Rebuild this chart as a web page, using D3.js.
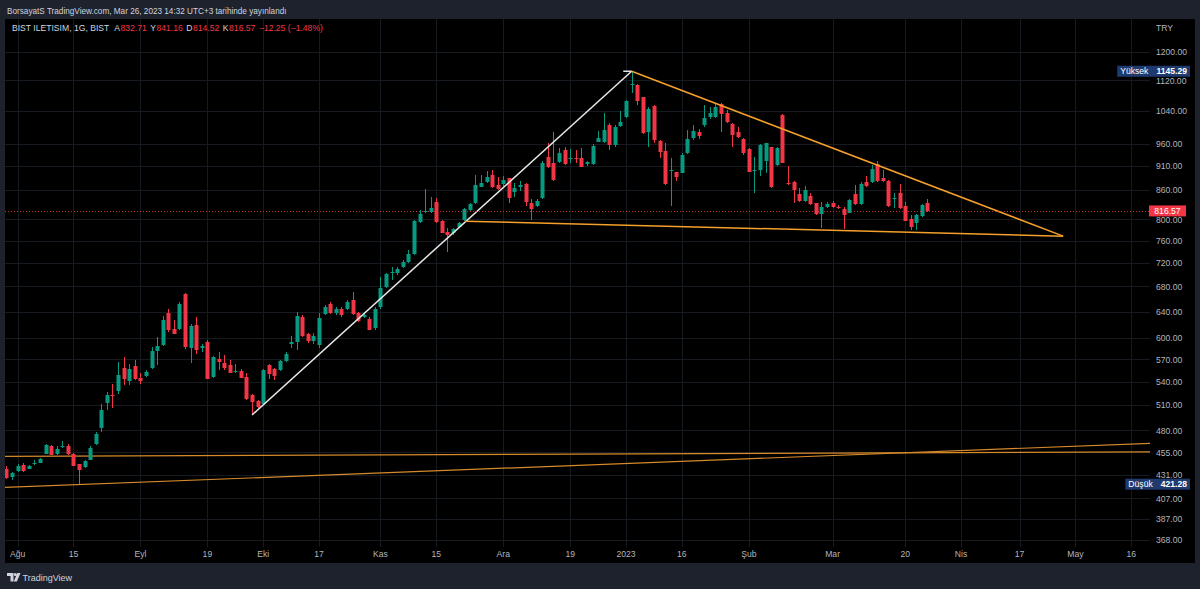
<!DOCTYPE html>
<html><head><meta charset="utf-8">
<script src="https://cdn.jsdelivr.net/npm/d3@7"></script>
<style>html,body{margin:0;padding:0;background:#1e222d;}svg{display:block}</style>
</head><body>
<svg id="c" width="1200" height="589"></svg>
<script>
// ---- DATA ----
// bar index 0 = Aug 1 2022 (trading days); first visible bar is index -2
const firstIndex = -2;
const opens = [
437.4,428.6,434.6,441.7,437.4,442.3,443.9,453.7,461.7,453.7,
460.9,461.7,453.7,442.0,439.1,447.1,464.7,482.7,512.8,522.9,
528.0,557.9,540.9,560.6,544.9,547.6,558.3,581.7,589.8,637.0,
614.2,614.2,667.0,585.2,619.1,585.2,594.1,546.2,570.1,564.6,
561.9,552.5,554.8,546.2,522.9,515.4,511.2,561.9,557.5,555.2,
567.4,592.3,594.1,631.8,605.8,595.5,589.8,635.9,651.4,637.0,
644.7,644.7,658.9,637.0,631.8,627.8,615.7,647.2,679.4,701.8,
701.8,713.1,720.8,735.4,795.3,813.6,813.6,833.6,797.2,776.3,
773.2,785.8,798.6,818.2,831.5,865.7,876.3,890.9,868.7,871.5,
883.6,855.3,865.7,871.5,832.6,826.2,841.8,931.1,916.3,918.3,
946.3,926.5,927.4,928.8,914.7,914.7,965.5,965.5,1005.4,957.6,
1003.9,1024.4,1107.0,1107.8,1075.2,989.2,1053.6,967.8,944.7,899.7,
896.4,895.6,938.8,973.5,989.2,1005.4,1024.4,1024.4,1058.3,1034.3,
1007.8,989.2,971.9,947.9,899.7,901.3,921.4,952.5,912.5,1030.1,
874.2,876.3,850.6,836.8,846.5,831.5,810.3,823.6,832.6,824.8,
819.6,812.8,850.6,830.2,876.3,876.3,914.7,883.6,878.5,839.7,
852.0,826.2,800.5,792.2,806.3,832.71];
const highs = [
439.9,433.8,442.0,443.4,441.0,446.4,448.8,464.7,462.8,461.7,
467.3,464.7,454.3,442.8,446.4,462.0,478.0,512.1,526.7,537.5,
566.4,573.3,564.2,568.8,550.8,556.1,587.4,601.8,632.8,644.7,
626.7,655.1,668.6,621.7,631.8,592.3,597.0,574.3,580.3,575.7,
568.8,564.2,557.5,550.8,524.7,516.3,556.5,563.3,558.0,568.8,
580.3,602.9,638.5,634.4,607.6,607.2,637.5,649.9,655.1,647.2,
647.2,658.9,671.2,639.5,639.5,631.8,647.2,695.0,702.8,713.1,
712.1,724.8,742.6,798.6,818.2,860.3,845.0,843.0,798.6,782.7,
784.2,794.1,821.6,832.6,890.9,890.9,899.3,901.3,886.9,888.8,
885.0,872.9,878.2,872.9,839.7,839.7,921.4,962.5,989.2,950.2,
953.9,949.8,946.3,950.2,921.4,961.0,991.1,1035.8,1009.5,1005.4,
1039.7,1068.0,1145.29,1110.5,1076.8,1051.1,1055.4,969.4,963.1,927.4,
897.7,938.8,992.3,1005.4,994.9,1055.4,1051.1,1060.1,1060.1,1042.7,
1009.5,1001.3,973.5,950.2,931.1,960.2,963.4,953.9,952.5,1031.9,
910.3,878.2,862.4,867.2,852.0,832.6,834.8,834.8,836.8,828.2,
824.2,839.7,869.3,876.3,888.4,912.5,921.4,901.3,879.9,852.0,
871.5,834.8,808.3,810.3,830.2,841.16];
const lows = [
426.2,425.9,433.8,433.8,436.7,441.7,443.1,453.0,451.8,452.4,
460.0,452.6,439.9,421.28,438.5,446.4,463.6,478.0,503.8,507.1,
524.7,535.3,535.3,541.9,537.5,546.2,557.5,561.9,588.4,609.1,
605.8,611.6,585.0,565.0,577.1,580.3,543.5,545.4,555.2,556.1,
550.8,551.6,545.0,517.1,498.2,507.0,510.5,544.1,541.9,554.2,
566.4,586.0,583.7,601.8,592.7,591.3,585.6,634.4,635.9,635.4,
631.8,643.1,634.4,624.2,629.3,611.6,611.6,644.7,676.8,690.5,
698.9,710.4,719.0,733.6,793.3,811.7,811.7,792.2,773.2,739.5,
770.1,782.7,797.2,816.8,830.2,864.5,872.9,862.4,858.9,867.2,
832.6,845.0,857.4,826.2,798.6,824.8,839.7,906.0,878.2,916.3,
912.5,916.9,917.5,907.4,910.3,912.5,964.1,963.1,946.3,952.5,
1001.3,1022.0,1085.6,1055.4,983.7,952.5,962.5,927.4,870.5,826.8,
878.2,894.3,937.2,969.4,971.2,1001.3,1019.5,1022.0,989.2,1009.5,
953.9,973.5,934.9,896.4,853.3,888.8,894.3,863.0,910.3,916.3,
869.3,832.6,834.8,834.8,828.2,808.3,782.7,821.6,821.6,819.6,
781.4,811.7,828.2,828.2,865.7,874.2,876.3,876.3,823.6,821.6,
819.6,796.1,779.5,779.5,803.8,814.52];
const closes = [
428.0,433.2,440.2,434.6,439.9,443.4,447.4,463.6,452.6,459.2,
462.0,453.0,440.6,436.4,445.3,459.8,475.4,503.8,522.5,521.6,
548.5,544.1,557.5,543.2,540.5,552.5,581.7,589.4,626.7,612.7,
606.8,652.5,586.6,617.6,582.7,589.4,544.1,573.3,566.4,558.3,
552.1,553.9,545.4,517.5,514.1,507.9,556.1,549.8,547.6,568.4,
577.1,594.5,633.3,602.9,595.5,602.9,630.8,647.2,637.0,643.6,
634.4,655.1,635.9,625.2,633.9,612.7,644.7,676.8,700.6,704.0,
708.6,721.8,735.4,796.1,810.3,816.2,822.8,795.3,774.4,770.1,
782.0,792.2,819.6,830.2,869.3,872.9,886.9,865.7,860.3,880.3,
841.8,862.4,868.7,833.6,819.6,835.6,916.3,907.4,879.7,940.1,
914.1,928.8,925.1,908.9,918.3,955.5,973.5,992.3,957.6,1001.3,
1013.5,1066.5,1110.5,1066.5,986.2,1044.7,969.4,942.4,871.5,902.7,
886.9,934.9,971.9,990.7,978.9,1022.0,1035.8,1049.5,1032.6,1013.5,
981.3,977.3,938.8,897.7,902.7,957.8,962.0,864.5,950.2,917.5,
872.9,858.9,836.8,858.9,830.2,809.7,823.6,830.2,823.6,822.2,
808.3,839.3,830.2,871.5,867.2,904.4,878.5,878.5,826.2,843.0,
821.6,797.2,784.6,808.3,827.6,816.57];

const priceTicks = [1200,1120,1040,960,910,860,800,760,720,680,640,600,570,540,510,480,455,431,407,387,368];
const timeTickIndex = [0,10,22,34,44,54,65,75,87,99,109,119,131,146,159,169,179.5,189.5,199.5];
const timeTickLabels = ["Ağu","15","Eyl","19","Eki","17","Kas","15","Ara","19","2023","16","Şub","Mar","20","Nis","17","May","16"];

// drawings: [barIndex, price]
const whiteTrend = [[42,498.2],[110,1145.29]];
const whiteHook = [[108.5,1145.29],[110,1145.29]];
const upperOrange = [[110,1145.29],[187.3,768.2]];
const lowerOrange = [[80.15,796.6],[187.3,768.2]];
const longFlat = [[-2.26,450.7],[202.86,455.6]];
const longRising = [[-2.26,418.0],[202.86,465.1]];

const lastPrice = 816.57, highPrice = 1145.29, lowPrice = 421.28;
const headerText = "BorsayatS TradingView.com, Mar 26, 2023 14:32 UTC+3 tarihinde yayınlandı";
const legendParts = [["BIST ILETISIM, 1G, BIST","#d1d4dc"],["A","#d1d4dc"],["832.71","#f23645"],["Y","#d1d4dc"],["841.16","#f23645"],["D","#d1d4dc"],["814.52","#f23645"],["K","#d1d4dc"],["816.57","#f23645"],["−12.25 (−1.48%)","#f23645"]];

// ---- LAYOUT ----
const FONT = "'Liberation Sans',Arial,sans-serif";
const UP = "#089981", DOWN = "#f23645";
const plot = {left:5, right:1150, top:19, bottom:547};
const svg = d3.select("#c");
svg.append("rect").attr("width",1200).attr("height",589).attr("fill","#1e222d");
svg.append("rect").attr("x",5).attr("y",19).attr("width",1190).attr("height",544).attr("fill","#000");

const x = d3.scaleLinear().domain([-2.257, 202.86]).range([plot.left, plot.right]);
const y = d3.scaleLog().domain([368, 1200]).range([540, 52]);

svg.append("defs").append("clipPath").attr("id","pc").append("rect")
  .attr("x",plot.left).attr("y",plot.top).attr("width",plot.right-plot.left).attr("height",plot.bottom-plot.top);

const grid = svg.append("g").attr("stroke","#161a21").attr("stroke-width",1);
priceTicks.forEach(p=>{
  const yy = Math.round(y(p))+0.5;
  grid.append("line").attr("x1",plot.left).attr("x2",plot.right).attr("y1",yy).attr("y2",yy);
});
timeTickIndex.forEach(t=>{
  const xx = Math.round(x(t))+0.5;
  grid.append("line").attr("x1",xx).attr("x2",xx).attr("y1",plot.top).attr("y2",plot.bottom);
});

const g = svg.append("g").attr("clip-path","url(#pc)");
const line = d3.line().x(d=>x(d[0])).y(d=>y(d[1]));

g.append("path").attr("d",line(longFlat)).attr("stroke","#d68a2a").attr("stroke-width",1.2).attr("fill","none");
g.append("path").attr("d",line(longRising)).attr("stroke","#d68a2a").attr("stroke-width",1.2).attr("fill","none");

const bars = opens.map((o,i)=>({i:firstIndex+i,o,h:highs[i],l:lows[i],c:closes[i]}));
const cg = g.append("g");
bars.forEach(b=>{
  const cx = Math.round(x(b.i));
  const col = b.c >= b.o ? UP : DOWN;
  const yh = Math.round(y(b.h)), yl = Math.round(y(b.l));
  cg.append("rect").attr("x",cx).attr("y",yh).attr("width",1).attr("height",Math.max(1,yl-yh)).attr("fill",col);
  const yt = Math.round(y(Math.max(b.o,b.c))), yb = Math.round(y(Math.min(b.o,b.c)));
  cg.append("rect").attr("x",cx-1.5).attr("y",yt).attr("width",4).attr("height",Math.max(1,yb-yt)).attr("fill",col);
});

g.append("path").attr("d",line(whiteTrend)).attr("stroke","#e8e8e8").attr("stroke-width",1.5).attr("fill","none");
g.append("path").attr("d",line(whiteHook)).attr("stroke","#e8e8e8").attr("stroke-width",1.5).attr("fill","none");
g.append("path").attr("d",line(upperOrange)).attr("stroke","#f5a02a").attr("stroke-width",1.5).attr("fill","none");
g.append("path").attr("d",line(lowerOrange)).attr("stroke","#f5a02a").attr("stroke-width",1.5).attr("fill","none");

// last price dotted line
const ly = Math.round(y(lastPrice))+0.5;
svg.append("line").attr("x1",plot.left).attr("x2",plot.right).attr("y1",ly).attr("y2",ly)
  .attr("stroke","#f23645").attr("stroke-width",1).attr("stroke-dasharray","1,2").attr("opacity",0.8);

// price axis labels
const axG = svg.append("g").attr("font-family",FONT).attr("font-size",8.6).attr("fill","#b2b5be");
axG.append("text").attr("x",1156).attr("y",30.5).text("TRY");
priceTicks.forEach(p=>{
  axG.append("text").attr("x",1156).attr("y",y(p)+3.2).text(d3.format(".2f")(p));
});
// time labels
timeTickIndex.forEach((t,k)=>{
  axG.append("text").attr("x",x(t)).attr("y",556.5).attr("text-anchor","middle").text(timeTickLabels[k]);
});

// high / low labels
function tagBox(price, name, fill){
  const cy = y(price);
  const gg = svg.append("g").attr("font-family",FONT).attr("font-size",8.6).attr("fill","#fff");
  const r = gg.append("rect").attr("y",cy-5.5).attr("height",11).attr("fill",fill);
  const t1 = gg.append("text").attr("y",cy+3.1).text(name);
  const t2 = gg.append("text").attr("y",cy+3.1).attr("font-weight","bold").attr("text-anchor","end").attr("x",1187).text(d3.format(".2f")(price));
  const w1 = t1.node().getComputedTextLength(), w2 = t2.node().getComputedTextLength();
  const left = 1187 - w2 - 8 - w1;
  t1.attr("x",left);
  r.attr("x",left-3).attr("width",1190-left+3);
}
tagBox(highPrice,"Yüksek","#1e3a6e");
tagBox(lowPrice,"Düşük","#1e3a6e");

// last price tag
const lp = svg.append("g").attr("font-family",FONT).attr("font-size",8.6);
lp.append("rect").attr("x",1149).attr("y",y(lastPrice)-5.5).attr("width",37).attr("height",11).attr("fill","#f23645");
lp.append("text").attr("x",1167.5).attr("y",y(lastPrice)+3.1).attr("text-anchor","middle").attr("fill","#fff").text(d3.format(".2f")(lastPrice));

// header & legend
svg.append("text").attr("x",7).attr("y",13.5).attr("font-family",FONT).attr("font-size",8.2).attr("fill","#d1d4dc").text(headerText);
const lg = svg.append("g").attr("font-family",FONT).attr("font-size",8.6);
let lx = 12;
legendParts.forEach((p,k)=>{
  const t = lg.append("text").attr("x",lx).attr("y",31.2).attr("fill",p[1]).text(p[0]);
  const w = t.node().getComputedTextLength();
  // label letters sit right against their value; groups separated by a small gap
  const gap = (k===0) ? 5 : (p[1]==="#d1d4dc" ? 0.5 : 3.5);
  lx += w + gap;
});

// footer logo
const logo = svg.append("g").attr("fill","#d1d4dc");
logo.append("path").attr("d","M7,573 h6.5 v8.5 h-3 v-5.5 h-3.5 z");
logo.append("circle").attr("cx",15.3).attr("cy",574.6).attr("r",1.5);
logo.append("path").attr("d","M17.3,573 h3.2 l-3.6,8.5 h-3.2 z");
svg.append("text").attr("x",22.5).attr("y",581).attr("font-family",FONT).attr("font-size",9).attr("fill","#d1d4dc").text("TradingView");
</script>
</body></html>
